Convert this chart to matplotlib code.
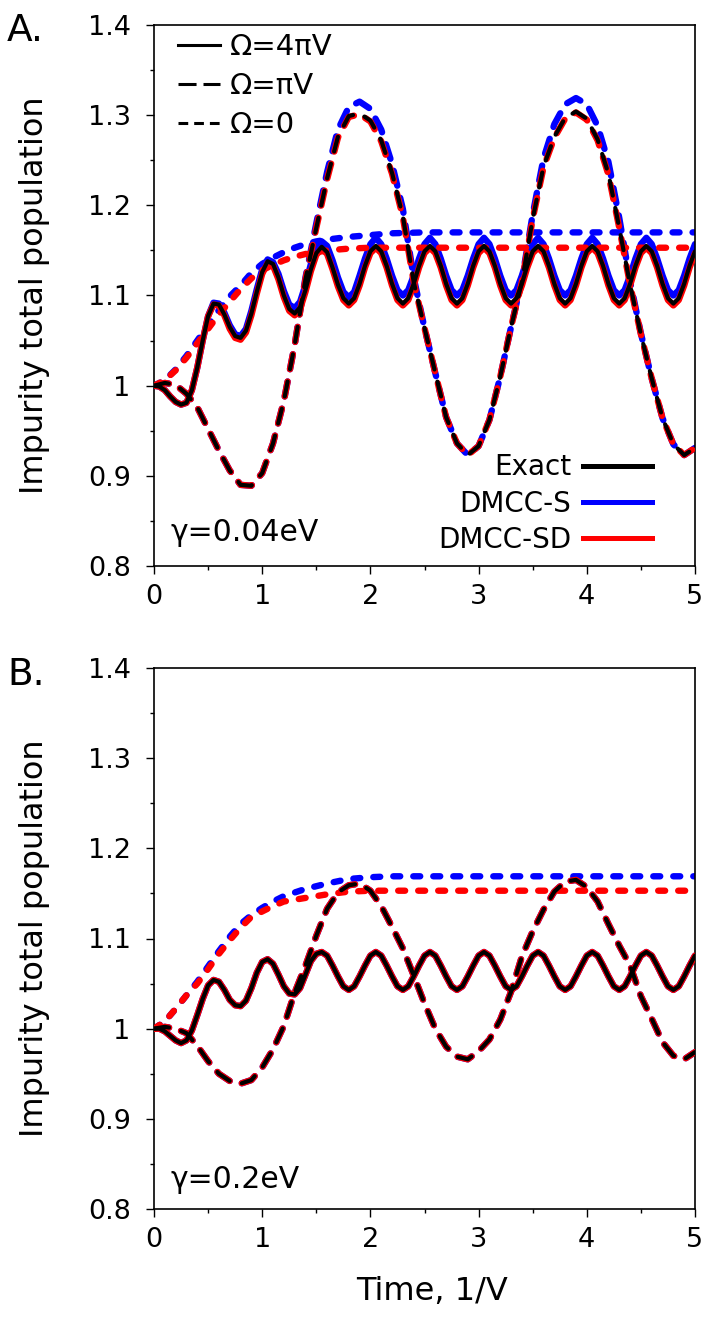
import matplotlib
matplotlib.use('Agg')
import matplotlib.pyplot as plt
from matplotlib.lines import Line2D
from matplotlib.ticker import MultipleLocator, FuncFormatter

plt.rcParams['font.family'] = ['DejaVu Sans']
plt.rcParams['lines.scale_dashes'] = False

# ---- data ----
# fast oscillation (Omega = 4 pi V), sampled every 0.05
t_fast = [0.00, 0.05, 0.10, 0.15, 0.20, 0.25, 0.30, 0.35, 0.40, 0.45,
          0.50, 0.55, 0.60, 0.65, 0.70, 0.75, 0.80, 0.85, 0.90, 0.95,
          1.00, 1.05, 1.10, 1.15, 1.20, 1.25, 1.30, 1.35, 1.40, 1.45,
          1.50, 1.55, 1.60, 1.65, 1.70, 1.75, 1.80, 1.85, 1.90, 1.95,
          2.00, 2.05, 2.10, 2.15, 2.20, 2.25, 2.30, 2.35, 2.40, 2.45,
          2.50, 2.55, 2.60, 2.65, 2.70, 2.75, 2.80, 2.85, 2.90, 2.95,
          3.00, 3.05, 3.10, 3.15, 3.20, 3.25, 3.30, 3.35, 3.40, 3.45,
          3.50, 3.55, 3.60, 3.65, 3.70, 3.75, 3.80, 3.85, 3.90, 3.95,
          4.00, 4.05, 4.10, 4.15, 4.20, 4.25, 4.30, 4.35, 4.40, 4.45,
          4.50, 4.55, 4.60, 4.65, 4.70, 4.75, 4.80, 4.85, 4.90, 4.95,
          5.00]

a_fast_exact = [1.000, 0.999, 0.995, 0.988, 0.982, 0.979, 0.981, 0.995, 1.020, 1.050,
                1.077, 1.091, 1.090, 1.079, 1.065, 1.055, 1.053, 1.061, 1.080, 1.104,
                1.126, 1.138, 1.135, 1.120, 1.100, 1.085, 1.080, 1.087, 1.106, 1.129,
                1.147, 1.154, 1.148, 1.131, 1.112, 1.097, 1.091, 1.097, 1.113, 1.133,
                1.149, 1.155, 1.149, 1.133, 1.113, 1.097, 1.091, 1.097, 1.113, 1.133,
                1.149, 1.155, 1.149, 1.133, 1.113, 1.097, 1.091, 1.097, 1.113, 1.133,
                1.149, 1.155, 1.149, 1.133, 1.113, 1.097, 1.091, 1.097, 1.113, 1.133,
                1.149, 1.155, 1.149, 1.133, 1.113, 1.097, 1.091, 1.097, 1.113, 1.133,
                1.149, 1.155, 1.149, 1.133, 1.113, 1.097, 1.091, 1.097, 1.113, 1.133,
                1.149, 1.155, 1.149, 1.133, 1.113, 1.097, 1.091, 1.097, 1.113, 1.133,
                1.149]
a_fast_s = [1.000, 0.999, 0.995, 0.988, 0.982, 0.979, 0.981, 0.995, 1.020, 1.050,
            1.077, 1.092, 1.091, 1.081, 1.067, 1.057, 1.055, 1.063, 1.083, 1.107,
            1.129, 1.140, 1.137, 1.124, 1.105, 1.090, 1.086, 1.093, 1.112, 1.135,
            1.153, 1.160, 1.155, 1.139, 1.120, 1.104, 1.098, 1.104, 1.122, 1.141,
            1.157, 1.164, 1.157, 1.141, 1.122, 1.106, 1.100, 1.106, 1.122, 1.141,
            1.157, 1.164, 1.157, 1.141, 1.122, 1.106, 1.100, 1.106, 1.122, 1.141,
            1.157, 1.164, 1.157, 1.141, 1.122, 1.106, 1.100, 1.106, 1.122, 1.141,
            1.157, 1.164, 1.157, 1.141, 1.122, 1.106, 1.100, 1.106, 1.122, 1.141,
            1.157, 1.164, 1.157, 1.141, 1.122, 1.106, 1.100, 1.106, 1.122, 1.141,
            1.157, 1.164, 1.157, 1.141, 1.122, 1.106, 1.100, 1.106, 1.122, 1.141,
            1.157]
a_fast_sd = [1.000, 0.999, 0.995, 0.988, 0.982, 0.979, 0.981, 0.995, 1.020, 1.050,
             1.077, 1.090, 1.089, 1.078, 1.063, 1.053, 1.051, 1.059, 1.078, 1.102,
             1.124, 1.136, 1.133, 1.118, 1.098, 1.083, 1.078, 1.085, 1.104, 1.127,
             1.145, 1.152, 1.146, 1.129, 1.110, 1.095, 1.089, 1.095, 1.111, 1.131,
             1.147, 1.153, 1.147, 1.131, 1.111, 1.095, 1.089, 1.095, 1.111, 1.131,
             1.147, 1.153, 1.147, 1.131, 1.111, 1.095, 1.089, 1.095, 1.111, 1.131,
             1.147, 1.153, 1.147, 1.131, 1.111, 1.095, 1.089, 1.095, 1.111, 1.131,
             1.147, 1.153, 1.147, 1.131, 1.111, 1.095, 1.089, 1.095, 1.111, 1.131,
             1.147, 1.153, 1.147, 1.131, 1.111, 1.095, 1.089, 1.095, 1.111, 1.131,
             1.147, 1.153, 1.147, 1.131, 1.111, 1.095, 1.089, 1.095, 1.111, 1.131,
             1.147]
# panel B: the three methods overlap
b_fast = [1.000, 1.000, 0.997, 0.992, 0.987, 0.984, 0.987, 0.998, 1.015, 1.033,
          1.048, 1.054, 1.052, 1.043, 1.032, 1.026, 1.025, 1.031, 1.045, 1.062,
          1.074, 1.077, 1.072, 1.060, 1.047, 1.039, 1.038, 1.045, 1.060, 1.075,
          1.083, 1.085, 1.081, 1.070, 1.058, 1.047, 1.043, 1.047, 1.058, 1.070,
          1.081, 1.085, 1.081, 1.070, 1.058, 1.047, 1.043, 1.047, 1.058, 1.070,
          1.081, 1.085, 1.081, 1.070, 1.058, 1.047, 1.043, 1.047, 1.058, 1.070,
          1.081, 1.085, 1.081, 1.070, 1.058, 1.047, 1.043, 1.047, 1.058, 1.070,
          1.081, 1.085, 1.081, 1.070, 1.058, 1.047, 1.043, 1.047, 1.058, 1.070,
          1.081, 1.085, 1.081, 1.070, 1.058, 1.047, 1.043, 1.047, 1.058, 1.070,
          1.081, 1.085, 1.081, 1.070, 1.058, 1.047, 1.043, 1.047, 1.058, 1.070,
          1.081]

# slow oscillation (Omega = pi V), sampled every 0.1
t_slow = [0.0, 0.1, 0.2, 0.3, 0.4, 0.5, 0.6, 0.7, 0.8, 0.9,
          1.0, 1.1, 1.2, 1.3, 1.4, 1.5, 1.6, 1.7, 1.8, 1.9,
          2.0, 2.1, 2.2, 2.3, 2.4, 2.5, 2.6, 2.7, 2.8, 2.9,
          3.0, 3.1, 3.2, 3.3, 3.4, 3.5, 3.6, 3.7, 3.8, 3.9,
          4.0, 4.1, 4.2, 4.3, 4.4, 4.5, 4.6, 4.7, 4.8, 4.9,
          5.0]
a_slow_exact = [1.000, 1.003, 1.001, 0.991, 0.976, 0.952, 0.928, 0.906, 0.890, 0.889,
                0.903, 0.936, 0.983, 1.045, 1.118, 1.175, 1.230, 1.276, 1.299, 1.302,
                1.294, 1.272, 1.236, 1.188, 1.115, 1.064, 1.014, 0.965, 0.936, 0.923,
                0.933, 0.962, 1.010, 1.065, 1.115, 1.185, 1.243, 1.276, 1.297, 1.304,
                1.296, 1.273, 1.235, 1.175, 1.112, 1.057, 1.008, 0.964, 0.935, 0.923,
                0.931]
a_slow_s = [1.000, 1.003, 1.001, 0.991, 0.976, 0.952, 0.928, 0.906, 0.890, 0.889,
            0.903, 0.936, 0.983, 1.045, 1.120, 1.180, 1.237, 1.284, 1.309, 1.315,
            1.307, 1.284, 1.246, 1.196, 1.120, 1.064, 1.014, 0.965, 0.936, 0.923,
            0.933, 0.962, 1.010, 1.065, 1.117, 1.190, 1.252, 1.290, 1.312, 1.319,
            1.312, 1.288, 1.248, 1.186, 1.116, 1.058, 1.008, 0.964, 0.935, 0.923,
            0.931]
a_slow_sd = [1.000, 1.003, 1.001, 0.991, 0.976, 0.952, 0.928, 0.906, 0.890, 0.889,
             0.903, 0.936, 0.983, 1.045, 1.118, 1.175, 1.229, 1.275, 1.298, 1.301,
             1.293, 1.271, 1.235, 1.187, 1.115, 1.064, 1.014, 0.965, 0.936, 0.923,
             0.933, 0.962, 1.010, 1.065, 1.115, 1.185, 1.242, 1.275, 1.296, 1.303,
             1.295, 1.272, 1.234, 1.175, 1.112, 1.057, 1.008, 0.964, 0.935, 0.923,
             0.931]
b_slow = [1.000, 1.002, 1.000, 0.995, 0.981, 0.964, 0.950, 0.942, 0.939, 0.943,
          0.957, 0.977, 1.003, 1.040, 1.070, 1.103, 1.133, 1.151, 1.159, 1.161,
          1.153, 1.136, 1.113, 1.089, 1.059, 1.028, 1.000, 0.980, 0.969, 0.966,
          0.975, 0.988, 1.010, 1.041, 1.080, 1.108, 1.132, 1.152, 1.163, 1.165,
          1.157, 1.141, 1.116, 1.092, 1.070, 1.036, 1.011, 0.985, 0.970, 0.966,
          0.974]

# no driving (Omega = 0)
t_zero = [0.0, 0.1, 0.2, 0.3, 0.4, 0.5, 0.6, 0.7, 0.8, 0.9,
          1.0, 1.1, 1.2, 1.3, 1.4, 1.5, 1.6, 1.8, 2.0, 2.2,
          2.5, 3.0, 3.5, 4.0, 4.5, 5.0]
a_zero_s = [1.000, 1.006, 1.018, 1.033, 1.050, 1.067, 1.084, 1.099, 1.111, 1.125,
            1.135, 1.142, 1.148, 1.153, 1.157, 1.160, 1.162, 1.165, 1.167, 1.169,
            1.170, 1.170, 1.170, 1.170, 1.170, 1.170]
a_zero_sd = [1.000, 1.006, 1.017, 1.031, 1.047, 1.063, 1.079, 1.093, 1.107, 1.119,
             1.128, 1.134, 1.139, 1.143, 1.146, 1.148, 1.150, 1.152, 1.153, 1.153,
             1.153, 1.153, 1.153, 1.153, 1.153, 1.153]
b_zero_s = [1.000, 1.008, 1.022, 1.037, 1.052, 1.069, 1.086, 1.102, 1.116, 1.126,
            1.134, 1.141, 1.147, 1.151, 1.155, 1.158, 1.161, 1.166, 1.168, 1.169,
            1.169, 1.169, 1.169, 1.169, 1.169, 1.169]
b_zero_sd = [1.000, 1.008, 1.022, 1.037, 1.050, 1.066, 1.083, 1.098, 1.112, 1.124,
             1.130, 1.136, 1.141, 1.143, 1.145, 1.147, 1.149, 1.152, 1.153, 1.153,
             1.153, 1.153, 1.153, 1.153, 1.153, 1.153]

methods = ['Exact', 'DMCC-S', 'DMCC-SD']
drives = ['\u03a9=4\u03c0V', '\u03a9=\u03c0V', '\u03a9=0']

# ---- styles ----
BLUE = '#0000ff'
RED = '#ff0000'
LONG = (0, (11, 9))
SHORT = (0, (5, 9.4))
LW_K, LW_C = 3.0, 4.6

fig = plt.figure(figsize=(7.06, 13.17), dpi=100)
axA = fig.add_axes([154 / 706, 1 - 566 / 1317, 541 / 706, 541 / 1317])
axB = fig.add_axes([154 / 706, 1 - 1209 / 1317, 541 / 706, 541 / 1317])


def draw(ax, fast, slow, zero):
    # fast/slow/zero: (exact, s, sd); exact may be None
    kw = dict(dash_capstyle='round', solid_capstyle='round', solid_joinstyle='round')
    ax.plot(t_zero, zero[1], color=BLUE, lw=LW_C, ls=SHORT, zorder=2, **kw)
    ax.plot(t_slow, slow[1], color=BLUE, lw=LW_C, ls=LONG, zorder=2, **kw)
    ax.plot(t_fast, fast[1], color=BLUE, lw=LW_C, ls='-', zorder=2, **kw)
    ax.plot(t_zero, zero[2], color=RED, lw=LW_C, ls=SHORT, zorder=3, **kw)
    ax.plot(t_slow, slow[2], color=RED, lw=LW_C, ls=LONG, zorder=3, **kw)
    ax.plot(t_fast, fast[2], color=RED, lw=LW_C, ls='-', zorder=3, **kw)
    ax.plot(t_slow, slow[0], color='k', lw=LW_K, ls=LONG, zorder=4, **kw)
    ax.plot(t_fast, fast[0], color='k', lw=LW_K, ls='-', zorder=4, **kw)


def style(ax):
    ax.set_xlim(0, 5)
    ax.set_ylim(0.8, 1.4)
    ax.xaxis.set_major_locator(MultipleLocator(1))
    ax.xaxis.set_minor_locator(MultipleLocator(0.5))
    ax.yaxis.set_major_locator(MultipleLocator(0.1))
    ax.yaxis.set_minor_locator(MultipleLocator(0.05))
    fmt = FuncFormatter(lambda v, p: format(round(v, 2), 'g'))
    ax.xaxis.set_major_formatter(fmt)
    ax.yaxis.set_major_formatter(fmt)
    ax.tick_params(which='both', direction='out', width=1.0, labelsize=19.5)
    ax.tick_params(which='major', length=5.8)
    ax.tick_params(which='minor', length=3)
    ax.tick_params(axis='y', pad=11)
    ax.tick_params(axis='x', pad=7)
    for s in ax.spines.values():
        s.set_linewidth(1.2)
    ax.set_ylabel('Impurity total population', fontsize=23)
    ax.yaxis.set_label_coords(-0.192, 0.5)


draw(axA, (a_fast_exact, a_fast_s, a_fast_sd), (a_slow_exact, a_slow_s, a_slow_sd),
     (None, a_zero_s, a_zero_sd))
draw(axB, (b_fast, b_fast, b_fast), (b_slow, b_slow, b_slow),
     (None, b_zero_s, b_zero_sd))
style(axA)
style(axB)
axB.set_xlabel('Time, 1/V', fontsize=23)
axB.xaxis.set_label_coords(0.514, -0.124)

# legends in panel A
ls_handles = [Line2D([], [], color='k', lw=2.2, ls='-'),
              Line2D([], [], color='k', lw=2.2, ls=(0, (13, 5))),
              Line2D([], [], color='k', lw=2.2, ls=(0, (7, 4.3)))]
leg1 = axA.legend(ls_handles, drives, loc='upper left', bbox_to_anchor=(0.044, 0.985),
                  frameon=False, fontsize=21, borderpad=0, borderaxespad=0,
                  handlelength=1.45, handletextpad=0.34, labelspacing=0.38)
axA.add_artist(leg1)
col_handles = [Line2D([], [], color='k', lw=3.6),
               Line2D([], [], color=BLUE, lw=3.6),
               Line2D([], [], color=RED, lw=3.6)]
axA.legend(col_handles, methods, loc='lower right', bbox_to_anchor=(0.9205, 0.022),
           frameon=False, fontsize=20, borderpad=0, borderaxespad=0,
           handlelength=2.5, handletextpad=0.42, labelspacing=0.3, markerfirst=False)

axA.text(0.0296, 0.061, '\u03b3=0.04eV', transform=axA.transAxes, fontsize=21.5,
         va='center', ha='left')
axB.text(0.0296, 0.054, '\u03b3=0.2eV', transform=axB.transAxes, fontsize=21.5,
         va='center', ha='left')

fig.text(7 / 706, 1 - 13 / 1317, 'A.', fontsize=27, va='top', ha='left')
fig.text(7 / 706, 1 - 657 / 1317, 'B.', fontsize=27, va='top', ha='left')

fig.savefig('out.png', dpi=100)
